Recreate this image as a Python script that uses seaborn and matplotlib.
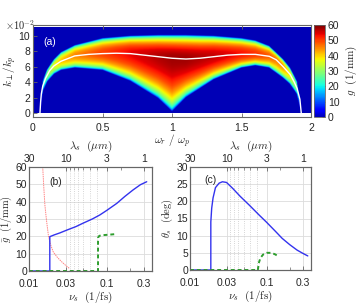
import numpy as np
import seaborn as sns
import matplotlib.pyplot as plt
from matplotlib.colors import ListedColormap
from matplotlib.ticker import FuncFormatter, NullFormatter

sns.set_theme(style="white")
plt.rcParams['font.family'] = ['Liberation Sans', 'DejaVu Sans']
plt.rcParams['mathtext.fontset'] = 'cm'
plt.rcParams['font.size'] = 7.5

# === (a) gain map, k in units of 1e-2 k_p ===
omega_pts = [0.05, 0.07, 0.1, 0.15, 0.2, 0.3, 0.5, 0.7, 0.9, 1.0, 1.1, 1.3, 1.5, 1.6, 1.7, 1.8, 1.85, 1.9, 1.93]
k_upper = [0, 4.2, 5.6, 6.9, 7.8, 8.7, 9.6, 9.9, 10.0, 10.0, 10.0, 9.9, 9.6, 9.3, 8.6, 6.9, 5.8, 4.1, 0]
k_lower = [0, 2.8, 4.0, 5.0, 5.5, 5.8, 5.5, 4.1, 1.9, 0.2, 2.0, 4.3, 5.8, 6.1, 5.8, 4.5, 3.7, 2.4, 0]
g_peak = [0, 20, 30, 37, 41, 45, 50, 54, 57, 58, 58, 56, 53, 51, 48, 44, 38, 28, 0]
ridge_w = [0.05, 0.055, 0.06, 0.07, 0.09, 0.12, 0.15, 0.2, 0.3, 0.4, 0.5, 0.6, 0.7, 0.8, 0.9, 1.0, 1.1,
           1.2, 1.3, 1.4, 1.5, 1.6, 1.7, 1.75, 1.8, 1.85, 1.88, 1.9, 1.92, 1.93]
ridge_k = [0, 1.5, 2.5, 3.5, 4.5, 5.5, 6.1, 6.7, 7.4, 7.6, 7.7, 7.75, 7.7, 7.5, 7.3, 7.1, 7.0,
           7.1, 7.3, 7.5, 7.6, 7.6, 7.35, 6.9, 6.0, 5.0, 4.0, 3.2, 1.8, 0]

# === (b) mean gain vs nu_s ===
nu_blue_b = [0.01, 0.0185, 0.0185, 0.021, 0.025, 0.031, 0.04, 0.049, 0.065, 0.081, 0.1, 0.134, 0.17, 0.216, 0.27, 0.325]
g_blue = [0, 0, 19.8, 20.8, 22.0, 23.7, 25.6, 27.5, 30.0, 32.3, 35.0, 39.0, 43.0, 46.7, 49.8, 51.5]
nu_red_b = [0.015, 0.0155, 0.016, 0.0168, 0.0178, 0.019, 0.0205, 0.023, 0.026, 0.03, 0.033]
g_red = [60, 48, 38, 29, 20, 15, 11, 8, 5.5, 3, 1.5]
nu_green_b = [0.01, 0.077, 0.077, 0.08, 0.09, 0.11, 0.13]
g_green = [0, 0, 19.2, 20.3, 20.7, 21.0, 21.3]

# === (c) angle vs nu_s ===
nu_blue_c = [0.01, 0.0187, 0.0187, 0.0192, 0.02, 0.0215, 0.024, 0.0265, 0.03, 0.036, 0.045, 0.06, 0.08,
             0.1, 0.13, 0.16, 0.2, 0.25, 0.3, 0.345]
th_blue = [0, 0, 14, 18, 21, 24, 25.3, 25.7, 25.5, 23.8, 21.5, 18.8, 16, 13.9, 11.3, 9.2, 7.4, 5.8, 4.8, 4.1]
nu_green_c = [0.01, 0.077, 0.079, 0.083, 0.09, 0.1, 0.115, 0.128, 0.14]
th_green = [0, 0, 2, 3.5, 4.5, 5, 5, 4.6, 4.1]

lam_major = [30, 10, 3, 1]
lam_minor = [9, 8, 7, 6, 5, 4, 2]
nu_major = [0.01, 0.03, 0.1, 0.3]

BLUE = '#3333ee'
GREEN = '#2e9e2e'
RED = '#ff5050'
GRID = '#dcdcdc'
SPINE = '#666666'

# jet, slightly brighter at the low end
cmap = ListedColormap(plt.get_cmap('jet')(np.linspace(0.05, 1.0, 256)))

fig = plt.figure(figsize=(3.64, 3.04), dpi=100)


def style_axis(ax):
    for sp in ax.spines.values():
        sp.set_color(SPINE)
        sp.set_linewidth(0.8)
    ax.tick_params(direction='in', length=3, width=0.6, color=SPINE, labelsize=7.5, pad=2)


# --- (a) ---
ax_a = fig.add_axes([33 / 364, 1 - 117 / 304, 278 / 364, 92 / 304])
w = np.linspace(0, 2, 600)
kk = np.linspace(0, 11, 330)
W, K = np.meshgrid(w, kk)
up = np.interp(w, omega_pts, k_upper)
lo = np.interp(w, omega_pts, k_lower)
ri = np.interp(w, ridge_w, ridge_k)
gp = np.interp(w, omega_pts, g_peak)
du = np.maximum(up - ri, 1e-6)
dl = np.maximum(ri - lo, 1e-6)
S = np.where(K >= ri, (K - ri) / du, (ri - K) / dl)
G = gp * np.sqrt(np.clip(1 - S ** 2, 0, None))
im = ax_a.imshow(G, extent=(0, 2, 0, 0.11), origin='lower', aspect='auto',
                 cmap=cmap, vmin=0, vmax=60, interpolation='bilinear')
sns.lineplot(x=ridge_w, y=np.array(ridge_k) * 0.01, ax=ax_a, color='white', lw=1.0,
             sort=False, estimator=None)
ax_a.set_xlim(0, 2)
ax_a.set_ylim(-0.005, 0.114)
ax_a.set_xticks([0, 0.5, 1, 1.5, 2])
ax_a.xaxis.set_major_formatter(FuncFormatter(lambda v, p: f"{v:g}"))
ax_a.set_yticks(np.arange(0, 0.11, 0.02))
ax_a.yaxis.set_major_formatter(FuncFormatter(lambda v, p: f"{v * 100:.0f}"))
style_axis(ax_a)
ax_a.tick_params(top=True, bottom=True, left=True)
ax_a.tick_params(axis='x', pad=4)
ax_a.set_xlabel(r"$\omega_r\ /\ \omega_p$", fontsize=8, labelpad=0)
ax_a.set_ylabel(r"$k_\perp / k_p$", fontsize=8, labelpad=0)
ax_a.text(0.036, 0.815, "(a)", transform=ax_a.transAxes, color='white', fontsize=7.5, va='center')
fig.text(5 / 364, 1 - 25 / 304, r"$\times 10^{-2}$", fontsize=7.5, va='center')

cax = fig.add_axes([314 / 364, 1 - 117 / 304, 11 / 364, 92 / 304])
cb = fig.colorbar(im, cax=cax, ticks=range(0, 61, 10))
cb.outline.set_edgecolor(SPINE)
cb.outline.set_linewidth(0.6)
cax.tick_params(direction='in', length=2, width=0.5, color=SPINE, labelsize=7.5, pad=2)
cb.set_label(r"$g\ \ (1/\mathrm{mm})$", fontsize=8, labelpad=3)


def lower_panel(rect, ymax, ystep, ylabel, ylab_x):
    ax = fig.add_axes(rect)
    ax.set_xscale('log')
    ax.set_xlim(0.01, 0.38)
    ax.set_ylim(0, ymax)
    ax.set_xticks(nu_major)
    ax.set_xticklabels(['0.01', '0.03', '0.1', '0.3'])
    ax.set_xticks([0.05, 0.075, 0.2], minor=True)
    ax.xaxis.set_minor_formatter(NullFormatter())
    ax.set_yticks(np.arange(0, ymax + 0.1, ystep))
    for yv in np.arange(ystep, ymax, ystep):
        ax.axhline(yv, color=GRID, lw=0.6, zorder=0)
    for xv in nu_major[1:]:
        ax.axvline(xv, color=GRID, lw=0.6, zorder=0)
    for lam in lam_minor[:-1]:
        ax.axvline(0.3 / lam, color='#c8c8c8', lw=0.6, ls=':', zorder=0)
    style_axis(ax)
    ax.tick_params(axis='x', pad=6)
    ax.tick_params(axis='y', pad=1.5)
    ax.tick_params(which='minor', direction='in', length=2, width=0.5, color=SPINE)
    ax.set_xlabel(r"$\nu_s\ \ (1/\mathrm{fs})$", fontsize=8, labelpad=0)
    ax.set_ylabel(ylabel, fontsize=7.5)
    ax.yaxis.set_label_coords(ylab_x, 0.5)

    top = ax.twiny()
    top.set_xscale('log')
    top.set_xlim(ax.get_xlim())
    top.set_xticks([0.3 / l for l in lam_major])
    top.set_xticklabels([str(l) for l in lam_major])
    top.set_xticks([0.3 / l for l in lam_minor], minor=True)
    top.xaxis.set_minor_formatter(NullFormatter())
    style_axis(top)
    top.tick_params(which='minor', direction='in', length=2, width=0.5, color=SPINE)
    top.set_xlabel(r"$\lambda_s\ \ (\mu m)$", fontsize=8, labelpad=4)
    return ax


# --- (b) ---
ax_b = lower_panel([29 / 364, 1 - 271 / 304, 123 / 364, 104 / 304], 60, 10,
                   r"$\bar{g}\ \ (1/\mathrm{mm})$", -0.12)
sns.lineplot(x=nu_red_b, y=g_red, ax=ax_b, color=RED, lw=0.7, alpha=0.7, ls=(0, (1.5, 0.8)),
             sort=False, estimator=None)
sns.lineplot(x=nu_blue_b, y=g_blue, ax=ax_b, color=BLUE, lw=1.0, sort=False, estimator=None)
sns.lineplot(x=nu_green_b, y=g_green, ax=ax_b, color=GREEN, lw=1.4, ls=(0, (2, 1.5)),
             sort=False, estimator=None)
ax_b.text(0.163, 0.856, "(b)", transform=ax_b.transAxes, fontsize=7.5, va='center')

# --- (c) ---
ax_c = lower_panel([190 / 364, 1 - 270 / 304, 121 / 364, 103 / 304], 30, 5,
                   r"$\theta_s\ \ (\mathrm{deg})$", -0.12)
sns.lineplot(x=nu_blue_c, y=th_blue, ax=ax_c, color=BLUE, lw=1.0, sort=False, estimator=None)
sns.lineplot(x=nu_green_c, y=th_green, ax=ax_c, color=GREEN, lw=1.4, ls=(0, (2, 1.5)),
             sort=False, estimator=None)
ax_c.text(0.116, 0.874, "(c)", transform=ax_c.transAxes, fontsize=7.5, va='center')

fig.savefig('out.png', dpi=100)
